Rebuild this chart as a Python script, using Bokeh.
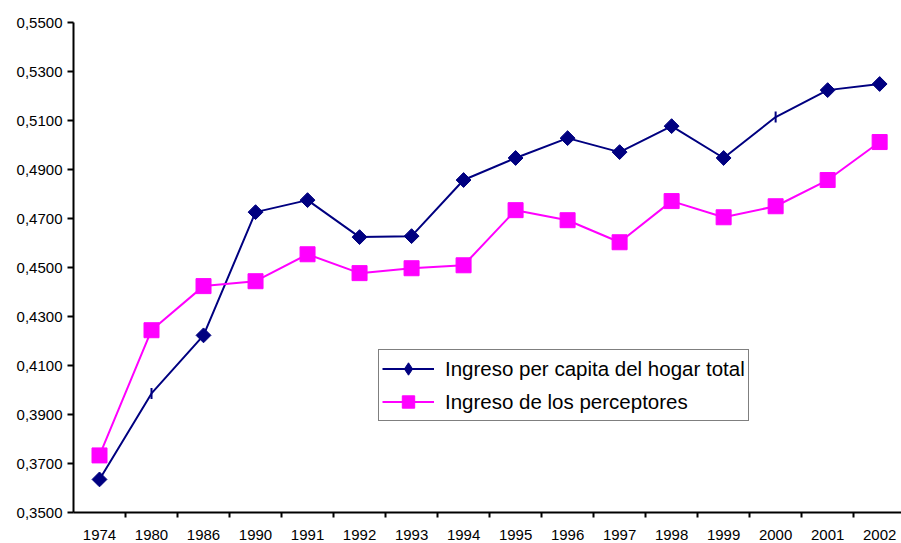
import math
from bokeh.plotting import figure
from bokeh.models import Range1d, FixedTicker, Legend, LegendItem, ColumnDataSource
from bokeh.embed import file_html
from bokeh.resources import INLINE

# ---------------- data ----------------
years = ["1974", "1980", "1986", "1990", "1991", "1992", "1993", "1994",
         "1995", "1996", "1997", "1998", "1999", "2000", "2001", "2002"]
ingreso_hogar_total = [0.3635, 0.3986, 0.4223, 0.4726, 0.4775, 0.4624, 0.4628, 0.4857,
                       0.4947, 0.5028, 0.4971, 0.5077, 0.4947, 0.5114, 0.5224, 0.5249]
ingreso_perceptores = [0.3733, 0.4244, 0.4424, 0.4444, 0.4554, 0.4477, 0.4497, 0.4509,
                       0.4734, 0.4693, 0.4603, 0.4771, 0.4705, 0.4750, 0.4857, 0.5012]
y_ticks = [0.35, 0.37, 0.39, 0.41, 0.43, 0.45, 0.47, 0.49, 0.51, 0.53, 0.55]
y_labels = ["0,3500", "0,3700", "0,3900", "0,4100", "0,4300", "0,4500",
            "0,4700", "0,4900", "0,5100", "0,5300", "0,5500"]
series_names = ["Ingreso per capita del hogar total", "Ingreso de los perceptores"]
# years whose point in the first series is drawn as a small bar instead of a diamond
bar_marker_years = ["1980", "2000"]

# ---------------- layout ----------------
NAVY = "#000080"
MAGENTA = "#FF00FF"
FONT = "Liberation Sans"

x_pos = [i + 0.5 for i in range(len(years))]
boundaries = [float(i) for i in range(1, len(years))]

p = figure(width=901, height=543, output_backend="svg", toolbar_location=None,
           x_range=Range1d(0, 15.92), y_range=Range1d(0.35, 0.55),
           min_border_left=73, min_border_right=0, min_border_top=22,
           min_border_bottom=31)
p.outline_line_color = None
p.xgrid.visible = False
p.ygrid.visible = False
p.background_fill_color = "white"
p.border_fill_color = "white"

src_a = ColumnDataSource(dict(x=x_pos, y=ingreso_hogar_total))
src_b = ColumnDataSource(dict(x=x_pos, y=ingreso_perceptores))
diam_idx = [i for i, yr in enumerate(years) if yr not in bar_marker_years]
bar_idx = [i for i, yr in enumerate(years) if yr in bar_marker_years]
src_a_diam = ColumnDataSource(dict(x=[x_pos[i] for i in diam_idx],
                                   y=[ingreso_hogar_total[i] for i in diam_idx]))
src_a_bar = ColumnDataSource(dict(x=[x_pos[i] for i in bar_idx],
                                  y=[ingreso_hogar_total[i] for i in bar_idx]))

l_a = p.line("x", "y", source=src_a, line_color=NAVY, line_width=2)
# small un-rotated diamond hidden beneath each marker; used for the legend swatch
m_a_leg = p.scatter("x", "y", source=src_a_diam, marker="diamond", size=9,
                    fill_color=NAVY, line_color=NAVY)
p.scatter("x", "y", source=src_a_diam, marker="square", angle=math.pi / 4,
          size=10.5, fill_color=NAVY, line_color=NAVY)
p.scatter("x", "y", source=src_a_bar, marker="dash", angle=math.pi / 2,
          size=11, line_color=NAVY, line_width=2)

l_b = p.line("x", "y", source=src_b, line_color=MAGENTA, line_width=2)
m_b = p.scatter("x", "y", source=src_b, marker="square", size=15,
                fill_color=MAGENTA, line_color=MAGENTA)

# axes
xa = p.xaxis[0]
xa.ticker = FixedTicker(ticks=x_pos, minor_ticks=boundaries)
xa.major_label_overrides = {xp: yr for xp, yr in zip(x_pos, years)}
xa.major_tick_out = 0
xa.major_tick_in = 0
xa.minor_tick_out = 5
xa.minor_tick_in = 0
xa.minor_tick_line_color = "black"
xa.minor_tick_line_width = 2
xa.axis_line_color = "black"
xa.axis_line_width = 2
xa.major_label_text_font = FONT
xa.major_label_text_font_size = "15px"
xa.major_label_text_color = "black"
xa.major_label_standoff = 12

ya = p.yaxis[0]
ya.ticker = FixedTicker(ticks=y_ticks)
ya.major_label_overrides = {t: s for t, s in zip(y_ticks, y_labels)}
ya.major_tick_out = 6
ya.major_tick_in = 0
ya.major_tick_line_color = "black"
ya.major_tick_line_width = 2
ya.minor_tick_line_color = None
ya.axis_line_color = "black"
ya.axis_line_width = 2
ya.major_label_text_font = FONT
ya.major_label_text_font_size = "15px"
ya.major_label_text_color = "black"
ya.major_label_standoff = 5

legend = Legend(items=[LegendItem(label=series_names[0], renderers=[l_a, m_a_leg]),
                       LegendItem(label=series_names[1], renderers=[l_b, m_b])],
                location=(305, 91))
legend.border_line_color = "black"
legend.border_line_width = 1.5
legend.background_fill_color = "white"
legend.background_fill_alpha = 1
legend.label_text_font = FONT
legend.label_text_font_size = "20.5px"
legend.label_text_color = "black"
legend.glyph_width = 52
legend.glyph_height = 31
legend.label_height = 31
legend.label_standoff = 11
legend.padding = 3
legend.spacing = 2
legend.margin = 0
p.add_layout(legend, "center")

open("out.html", "w").write(file_html(p, INLINE))
